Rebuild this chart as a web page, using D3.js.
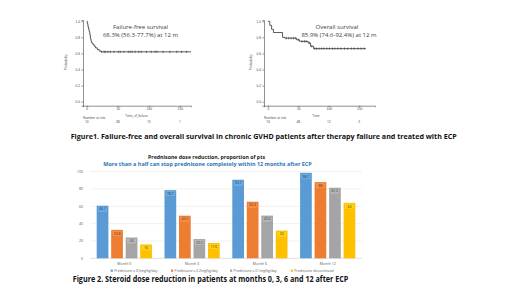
<!DOCTYPE html>
<html><head><meta charset="utf-8">
<script src="https://cdn.jsdelivr.net/npm/d3@7"></script>
<style>html,body{margin:0;padding:0;background:#fff;}svg{display:block;font-family:"Open Sans","Liberation Sans",sans-serif;}</style>
</head><body><svg id="c" width="520" height="292"></svg>
<script>
// ---- Kaplan-Meier data ----
const ffsTimes = [0,1,2,3,4,5,6,7,8,10,12,14,17,20,23,168];
const ffsSurv  = [1.0,0.97,0.93,0.90,0.87,0.83,0.78,0.75,0.73,0.71,0.69,0.67,0.65,0.63,0.62,0.62];
const ffsCensor = [24,28,30,34,38,44,51,54,60,67,70,73,78,84,88,96,104,110,113,123,134,145,153,161];
const ffsRisk = ["74","38","10","1"];
const osTimes = [0,3,6,9,24,28,47,52,66,70,75,161];
const osSurv  = [1.0,0.95,0.90,0.86,0.80,0.79,0.77,0.75,0.73,0.69,0.66,0.66];
const osCensor = [30,34,38,42,45,50,56,60,63,68,72,77,80,84,88,92,97,101,106,110,115,120,126,131,137,142,148,153,158];
const osRisk = ["74","48","12","3"];
const kmTicksX = [0,50,100,150];
const kmTicksY = [0,0.2,0.4,0.6,0.8,1.0];

// ---- Bar chart data ----
const months = ["Month 0","Month 3","Month 6","Month 12"];
const seriesNames = ["Prednisone \u2264 0.5mg/kg/day","Prednisone \u2264 0.2mg/kg/day","Prednisone \u2264 0.1mg/kg/day","Prednisone discontinued"];
const seriesColors = ["#5B9BD5","#ED7D31","#A5A5A5","#FFC000"];
const blueVals   = [60.7,78.7,90.7,98.7];
const orangeVals = [32.8,49.2,65.3,88.0];
const grayVals   = [24.0,22.2,49.3,81.5];
const yellowVals = [16.0,17.6,32.0,64.0];
const barTicks = [0,20,40,60,80,100];

const svg = d3.select("#c");
svg.append("rect").attr("width",520).attr("height",292).attr("fill","#fff");

function km(cfg){
  const g = svg.append("g");
  const x = d3.scaleLinear().domain(cfg.xd).range(cfg.xr);
  const y = d3.scaleLinear().domain([-0.05,1.016]).range([105.7,20]);
  const xa = g.append("g").attr("transform","translate(0,105.7)")
    .call(d3.axisBottom(x).tickValues(kmTicksX).tickSize(1.5).tickPadding(1).tickFormat(d3.format("d")));
  const ya = g.append("g").attr("transform",`translate(${cfg.xr[0]},0)`)
    .call(d3.axisLeft(y).tickValues(kmTicksY).tickSize(1.5).tickPadding(1.5).tickFormat(d3.format(".1f")));
  [xa,ya].forEach(a=>{
    a.selectAll("path,line").attr("stroke","#444").attr("stroke-width",0.6);
    a.selectAll("text").attr("font-size",3.2).attr("fill","#444");
  });
  g.append("text").attr("transform",`translate(${cfg.ylabX},62) rotate(-90)`).attr("text-anchor","middle")
    .attr("font-size",3.2).attr("fill","#444").text("Probability");
  g.append("text").attr("x",cfg.xlabX).attr("y",117).attr("text-anchor","middle")
    .attr("font-size",3.2).attr("fill","#444").text(cfg.xlab);
  g.append("text").attr("x",cfg.xr[0]).attr("y",118.5).attr("font-size",3.2).attr("fill","#444").text("Number at risk");
  g.selectAll(".risk").data(cfg.risk).enter().append("text")
    .attr("x",(d,i)=>x(kmTicksX[i])).attr("y",123).attr("text-anchor","middle")
    .attr("font-size",3.2).attr("fill","#444").text(d=>d);
  const pts = cfg.t.map((t,i)=>[t,cfg.s[i]]);
  g.append("path").datum(pts).attr("fill","none").attr("stroke","#333").attr("stroke-width",0.8)
    .attr("d",d3.line().x(d=>x(d[0])).y(d=>y(d[1])).curve(d3.curveStepAfter));
  const level = t => { let v=cfg.s[0]; cfg.t.forEach((tt,i)=>{ if(tt<=t) v=cfg.s[i]; }); return v; };
  g.selectAll(".cen").data(cfg.c).enter().append("line")
    .attr("x1",d=>x(d)).attr("x2",d=>x(d)).attr("y1",d=>y(level(d))-1.2).attr("y2",d=>y(level(d))+1.2)
    .attr("stroke","#333").attr("stroke-width",0.6);
  g.append("text").attr("x",cfg.tx).attr("y",28.5).attr("text-anchor","middle").attr("font-size",6)
    .attr("fill","#404040").text(cfg.title1);
  g.append("text").attr("x",cfg.tx2).attr("y",37).attr("text-anchor","middle").attr("font-size",6)
    .attr("fill","#404040").text(cfg.title2);
}
km({xd:[-6,168],xr:[83,191],t:ffsTimes,s:ffsSurv,c:ffsCensor,risk:ffsRisk,ylabX:67,xlabX:136.5,xlab:"Time_of_failure",
    tx:140.5,tx2:140.5,title1:"Failure-free survival",title2:"68.3% (56.3-77.7%) at 12 m"});
km({xd:[-6.5,176],xr:[264,375],t:osTimes,s:osSurv,c:osCensor,risk:osRisk,ylabX:251.5,xlabX:316,xlab:"Time",
    tx:337,tx2:339,title1:"Overall survival",title2:"85.9% (74.6-92.4%) at 12 m"});

svg.append("text").attr("x",263.7).attr("y",138.5).attr("text-anchor","middle").attr("font-size",7.6)
  .attr("font-weight","bold").attr("fill","#111").attr("textLength",386).attr("lengthAdjust","spacingAndGlyphs")
  .text("Figure1. Failure-free and overall survival  in chronic GVHD patients after therapy failure and treated with ECP");

// ---- Bar chart ----
const seriesVals = [blueVals,orangeVals,grayVals,yellowVals];
const x0 = d3.scaleBand().domain(months).range([90.4,361.6]);
const x1 = d3.scaleBand().domain(d3.range(4)).range([0,x0.bandwidth()]).paddingInner(0.193).paddingOuter(0.434);
const yb = d3.scaleLinear().domain([0,100]).range([258.3,171.7]);
const bg = svg.append("g");
bg.selectAll(".grid").data(barTicks).enter().append("line")
  .attr("x1",90.4).attr("x2",361.6).attr("y1",d=>yb(d)).attr("y2",d=>yb(d))
  .attr("stroke",d=>d===0?"#bfbfbf":"#e3e3e3").attr("stroke-width",0.5);
bg.selectAll(".yl").data(barTicks).enter().append("text")
  .attr("x",83).attr("y",d=>yb(d)+1.2).attr("text-anchor","end").attr("font-size",3.6).attr("fill","#595959").text(d=>d);
months.forEach((m,mi)=>{
  seriesVals.forEach((vals,si)=>{
    const v = vals[mi];
    const bx = x0(m)+x1(si);
    bg.append("rect").attr("x",bx).attr("y",yb(v)).attr("width",x1.bandwidth()).attr("height",yb(0)-yb(v))
      .attr("fill",seriesColors[si]);
    bg.append("rect").attr("x",bx+1.8).attr("y",yb(v)+1.5).attr("width",x1.bandwidth()-3.6).attr("height",4.2)
      .attr("fill",d3.color(seriesColors[si]).brighter(0.25)).attr("stroke","#ffffff").attr("stroke-opacity",0.35).attr("stroke-width",0.3);
    bg.append("text").attr("x",bx+x1.bandwidth()/2).attr("y",yb(v)+4.7).attr("text-anchor","middle")
      .attr("font-size",3.4).attr("fill","#404040").text(v%1===0?d3.format("d")(v):d3.format(".1f")(v));
  });
  bg.append("text").attr("x",x0(m)+x0.bandwidth()/2).attr("y",264.5).attr("text-anchor","middle")
    .attr("font-size",3.6).attr("fill","#595959").text(m);
});
const legX = [110.7,171,230,290.7];
seriesNames.forEach((n,i)=>{
  bg.append("rect").attr("x",legX[i]).attr("y",269.6).attr("width",2.2).attr("height",2.2).attr("fill",seriesColors[i]);
  bg.append("text").attr("x",legX[i]+3.6).attr("y",271.7).attr("font-size",3.4).attr("fill","#595959").text(n);
});
svg.append("text").attr("x",206.5).attr("y",158.8).attr("text-anchor","middle").attr("font-size",6)
  .attr("font-weight","bold").attr("fill","#222").attr("textLength",117).attr("lengthAdjust","spacingAndGlyphs")
  .text("Prednisone dose reduction, proportion of pts");
svg.append("text").attr("x",207.5).attr("y",166.4).attr("text-anchor","middle").attr("font-size",6)
  .attr("font-weight","bold").attr("fill","#2E75B6").attr("textLength",208.5).attr("lengthAdjust","spacingAndGlyphs")
  .text("More than a half can stop prednisone completely within 12 months after ECP");
svg.append("text").attr("x",210.5).attr("y",282).attr("text-anchor","middle").attr("font-size",8)
  .attr("font-weight","bold").attr("fill","#111").attr("textLength",275.6).attr("lengthAdjust","spacingAndGlyphs")
  .text("Figure 2. Steroid dose reduction  in patients at months 0, 3, 6 and 12 after ECP");
</script></body></html>
